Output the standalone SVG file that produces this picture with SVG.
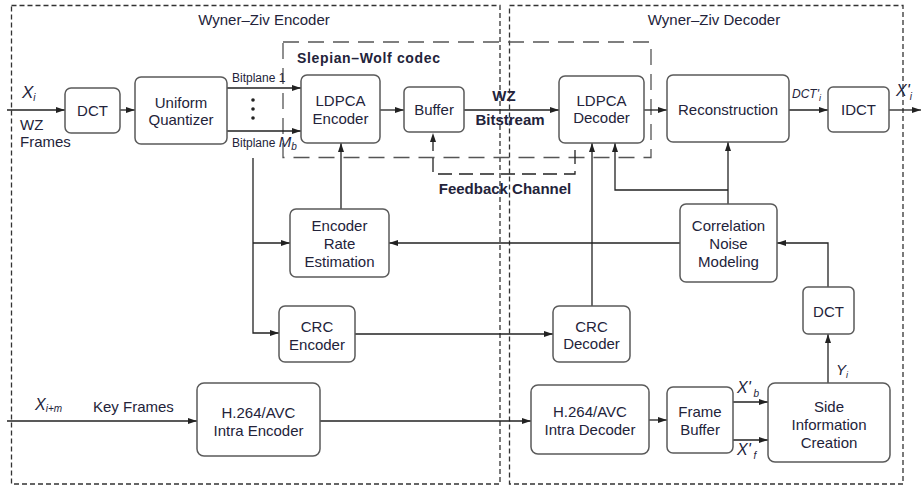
<svg xmlns="http://www.w3.org/2000/svg" width="922" height="486" viewBox="0 0 922 486">
<defs>
<marker id="ar" markerWidth="10" markerHeight="8" refX="9" refY="4" orient="auto" markerUnits="userSpaceOnUse">
<path d="M0,1 L9,4 L0,7 Z" fill="#222"/>
</marker>
<style>
.box{fill:#fff;stroke:#5a5a5a;stroke-width:1.5}
.t{font-family:"Liberation Sans",Arial,sans-serif;font-size:15px;fill:#23233a;text-anchor:middle}
.tl{font-family:"Liberation Sans",Arial,sans-serif;font-size:15px;fill:#23233a}
.b{font-weight:bold}
.it{font-family:"Liberation Sans",Arial,sans-serif;font-style:italic;fill:#23233a}
.ln{fill:none;stroke:#222;stroke-width:1.3}
.outer{fill:none;stroke:#333;stroke-width:1.3;stroke-dasharray:5,3}
.sw{fill:none;stroke:#555;stroke-width:1.3;stroke-dasharray:16,9}
</style>
</defs>
<rect width="922" height="486" fill="#fff"/>

<g id="encoder-region">
<rect class="outer" x="11.5" y="5.5" width="488.5" height="478.5"/>
<text class="t" x="264" y="25">Wyner–Ziv Encoder</text>
</g>
<g id="decoder-region">
<rect class="outer" x="509.5" y="5.5" width="393.5" height="478.5"/>
<text class="t" x="714" y="25">Wyner–Ziv Decoder</text>
</g>
<g id="slepian-wolf">
<rect class="sw" x="283" y="42" width="368" height="115.5"/>
<text class="tl b" x="297" y="63" style="font-size:14px" textLength="143" lengthAdjust="spacing">Slepian–Wolf codec</text>
</g>

<g id="connectors">
<path class="ln" d="M7,110 H65" marker-end="url(#ar)"/>
<path class="ln" d="M120,110 H135" marker-end="url(#ar)"/>
<path class="ln" d="M227,88 H301" marker-end="url(#ar)"/>
<path class="ln" d="M227,131 H301" marker-end="url(#ar)"/>
<path class="ln" d="M253,158 V333 H279" marker-end="url(#ar)"/>
<path class="ln" d="M253,243 H290" marker-end="url(#ar)"/>
<path class="ln" d="M380,110 H404" marker-end="url(#ar)"/>
<path class="ln" d="M341,209 V143" marker-end="url(#ar)"/>
<path class="ln" d="M464,110 H559" marker-end="url(#ar)"/>
<path class="ln" d="M644,110 H667" marker-end="url(#ar)"/>
<path class="ln" d="M789,110 H828" marker-end="url(#ar)"/>
<path class="ln" d="M889,110 H921" marker-end="url(#ar)"/>
<path class="ln" d="M592,306 V143" marker-end="url(#ar)"/>
<path class="ln" d="M728,204 V142" marker-end="url(#ar)"/>
<path class="ln" d="M728,190 H615 V143" marker-end="url(#ar)"/>
<path class="ln" d="M680,243 H389" marker-end="url(#ar)"/>
<path class="ln" d="M355,334 H553" marker-end="url(#ar)"/>
<path class="ln" d="M828,287 V243 H777" marker-end="url(#ar)"/>
<path class="ln" d="M828,383 V334" marker-end="url(#ar)"/>
<path class="ln" d="M7,421 H197" marker-end="url(#ar)"/>
<path class="ln" d="M320,421 H531" marker-end="url(#ar)"/>
<path class="ln" d="M649,420 H667" marker-end="url(#ar)"/>
<path class="ln" d="M733,402 H768" marker-end="url(#ar)"/>
<path class="ln" d="M733,440 H768" marker-end="url(#ar)"/>
<path class="ln" d="M575,150 V174 H433 V133" style="stroke-dasharray:14,7" marker-end="url(#ar)"/>
<circle cx="253" cy="100" r="1.8" fill="#222"/>
<circle cx="253" cy="109" r="1.8" fill="#222"/>
<circle cx="253" cy="118" r="1.8" fill="#222"/>
</g>

<g id="labels">
<text class="it" x="22" y="98" font-size="17">X<tspan font-size="10" dy="3">i</tspan></text>
<text class="tl" x="20" y="130">WZ</text>
<text class="tl" x="20" y="147">Frames</text>
<text class="tl" x="232" y="82" style="font-size:12px">Bitplane 1</text>
<text class="tl" x="232" y="147" style="font-size:12px">Bitplane <tspan font-style="italic" font-size="15">M</tspan><tspan font-style="italic" font-size="10" dy="3">b</tspan></text>
<text class="t b" x="504" y="101">WZ</text>
<text class="t b" x="510" y="125">Bitstream</text>
<text class="t b" x="505" y="194">Feedback Channel</text>
<text class="it" x="792" y="98" font-size="12">DCT'<tspan font-size="9" dy="3">i</tspan></text>
<text class="it" x="896" y="96" font-size="16">X'<tspan font-size="10" dy="4">i</tspan></text>
<text class="it" x="35" y="410" font-size="16">X<tspan font-size="10" dy="2">i+m</tspan></text>
<text class="tl" x="93" y="412">Key Frames</text>
<text class="it" x="836" y="375" font-size="15">Y<tspan font-size="9" dy="3">i</tspan></text>
<text class="it" x="737" y="393" font-size="16">X'<tspan font-size="10" dy="4"> b</tspan></text>
<text class="it" x="737" y="455" font-size="16">X'<tspan font-size="10" dy="4"> f</tspan></text>
</g>

<g id="dct-enc"><rect class="box" x="65" y="88" width="55" height="45" rx="6"/><text class="t" x="92.5" y="116">DCT</text></g>
<g id="quantizer"><rect class="box" x="135" y="77" width="92" height="67" rx="6"/><text class="t" x="181" y="108">Uniform</text><text class="t" x="181" y="125">Quantizer</text></g>
<g id="ldpca-enc"><rect class="box" x="301" y="75" width="79" height="68" rx="6"/><text class="t" x="340.5" y="106">LDPCA</text><text class="t" x="340.5" y="124">Encoder</text></g>
<g id="buffer"><rect class="box" x="404" y="87" width="60" height="45" rx="5"/><text class="t" x="434" y="115">Buffer</text></g>
<g id="ldpca-dec"><rect class="box" x="559" y="76" width="85" height="67" rx="6"/><text class="t" x="601.5" y="106">LDPCA</text><text class="t" x="601.5" y="123">Decoder</text></g>
<g id="reconstruction"><rect class="box" x="667" y="75" width="122" height="67" rx="6"/><text class="t" x="728" y="115">Reconstruction</text></g>
<g id="idct"><rect class="box" x="828" y="87" width="61" height="45" rx="5"/><text class="t" x="858.5" y="115">IDCT</text></g>
<g id="rate-est"><rect class="box" x="290" y="209" width="99" height="68" rx="6"/><text class="t" x="339.5" y="231">Encoder</text><text class="t" x="339.5" y="249">Rate</text><text class="t" x="339.5" y="267">Estimation</text></g>
<g id="crc-enc"><rect class="box" x="279" y="306" width="76" height="56" rx="6"/><text class="t" x="317" y="332">CRC</text><text class="t" x="317" y="350">Encoder</text></g>
<g id="crc-dec"><rect class="box" x="553" y="306" width="77" height="56" rx="6"/><text class="t" x="591.5" y="332">CRC</text><text class="t" x="591.5" y="349">Decoder</text></g>
<g id="corr-noise"><rect class="box" x="680" y="204" width="97" height="78" rx="6"/><text class="t" x="728.5" y="231">Correlation</text><text class="t" x="728.5" y="249">Noise</text><text class="t" x="728.5" y="267">Modeling</text></g>
<g id="dct-dec"><rect class="box" x="803" y="287" width="51" height="47" rx="5"/><text class="t" x="828.5" y="317">DCT</text></g>
<g id="intra-enc"><rect class="box" x="197" y="383" width="123" height="73" rx="7"/><text class="t" x="258.5" y="418">H.264/AVC</text><text class="t" x="258.5" y="436">Intra Encoder</text></g>
<g id="intra-dec"><rect class="box" x="531" y="385" width="118" height="69" rx="7"/><text class="t" x="590" y="417">H.264/AVC</text><text class="t" x="590" y="435">Intra Decoder</text></g>
<g id="frame-buffer"><rect class="box" x="667" y="387" width="66" height="66" rx="6"/><text class="t" x="700" y="417">Frame</text><text class="t" x="700" y="435">Buffer</text></g>
<g id="side-info"><rect class="box" x="768" y="383" width="122" height="79" rx="7"/><text class="t" x="829" y="412">Side</text><text class="t" x="829" y="430">Information</text><text class="t" x="829" y="448">Creation</text></g>
</svg>
